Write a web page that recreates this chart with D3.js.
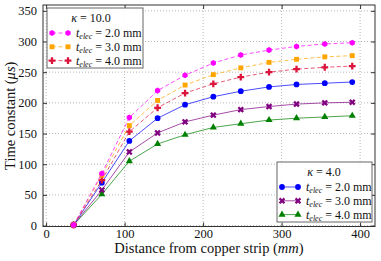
<!DOCTYPE html>
<html>
<head>
<meta charset="utf-8">
<script src="https://cdn.jsdelivr.net/npm/d3@7"></script>
<style>
  body { margin: 0; background: #fff; }
  text { font-family: "Liberation Serif", "DejaVu Serif", serif; fill: #111; }
</style>
</head>
<body>
<script>
// chart data
var distance = [35, 71, 106, 142, 177, 213, 248, 284, 319, 355, 390];

var k10t2 = [1, 85, 176, 220, 245, 265, 278, 286, 292, 296, 298];
var k10t3 = [1, 82, 163, 204, 229, 246, 257, 266, 271, 275, 277];
var k10t4 = [1, 74, 153, 192, 216, 231, 242, 250, 255, 258, 260];

var k4t2 = [1, 70, 138, 175, 197, 210, 219, 226, 230, 232, 234];
var k4t3 = [1, 58, 120, 151, 169, 180, 189, 194, 198, 200, 201];
var k4t4 = [1, 51, 105, 133, 148, 160, 166, 172, 175, 177, 179];

var xTicks = [0, 100, 200, 300, 400];
var yTicks = [0, 50, 100, 150, 200, 250, 300, 350];
var thickness = ["2.0", "3.0", "4.0"];

var width = 381, height = 261;
// plot box edges (don't call these top/left: window.top is read-only)
var pL = 43, pR = 375, pT = 5, pB = 226.5;

var svg = d3.select("body").append("svg")
  .attr("width", width)
  .attr("height", height);

var x = d3.scaleLinear().domain([-4, 419]).range([pL, pR]);
var y = d3.scaleLinear().domain([-1.5, 359.5]).range([pB, pT]);

// dotted grid
svg.append("g").selectAll("line").data(xTicks).enter().append("line")
  .attr("x1", function(d) { return x(d); }).attr("x2", function(d) { return x(d); })
  .attr("y1", pT).attr("y2", pB)
  .attr("stroke", "#b0b0b0").attr("stroke-dasharray", "1,2").attr("stroke-width", 0.9);
svg.append("g").selectAll("line").data(yTicks).enter().append("line")
  .attr("y1", function(d) { return y(d); }).attr("y2", function(d) { return y(d); })
  .attr("x1", pL).attr("x2", pR)
  .attr("stroke", "#b0b0b0").attr("stroke-dasharray", "1,2").attr("stroke-width", 0.9);

// axes, ticks pointing inward on every side
var axB = svg.append("g").attr("transform", "translate(0," + pB + ")")
  .call(d3.axisBottom(x).tickValues(xTicks).tickSize(-4).tickPadding(3));
var axT = svg.append("g").attr("transform", "translate(0," + pT + ")")
  .call(d3.axisTop(x).tickValues(xTicks).tickSize(-4).tickFormat(""));
var axL = svg.append("g").attr("transform", "translate(" + pL + ",0)")
  .call(d3.axisLeft(y).tickValues(yTicks).tickSize(-4).tickPadding(6));
var axR = svg.append("g").attr("transform", "translate(" + pR + ",0)")
  .call(d3.axisRight(y).tickValues(yTicks).tickSize(-4).tickFormat(""));

[axB, axT, axL, axR].forEach(function(a) {
  a.select(".domain").remove();
  a.selectAll("line").attr("stroke", "#333");
  a.selectAll("text").attr("font-size", 12.5).attr("fill", "#111")
    .attr("font-family", "Liberation Serif, serif");
});

svg.append("rect")
  .attr("x", pL).attr("y", pT)
  .attr("width", pR - pL).attr("height", pB - pT)
  .attr("fill", "none").attr("stroke", "#333").attr("stroke-width", 1);

// marker shapes
var hexagon = {
  draw: function(ctx, size) {
    var r = Math.sqrt(size / 2.598);
    for (var i = 0; i < 6; i++) {
      var a = Math.PI / 3 * i - Math.PI / 2;
      if (i === 0) ctx.moveTo(r * Math.cos(a), r * Math.sin(a));
      else ctx.lineTo(r * Math.cos(a), r * Math.sin(a));
    }
    ctx.closePath();
  }
};

var series = [
  { values: k10t2, color: "#ff00ff", shape: hexagon, size: 24, rot: 0, dash: "4,2.5" },
  { values: k10t3, color: "#ffa500", shape: d3.symbolSquare, size: 24, rot: 0, dash: "4,2.5" },
  { values: k10t4, color: "#dc143c", shape: d3.symbolCross, size: 26, rot: 0, dash: "4,2.5" },
  { values: k4t2, color: "#0000ff", shape: d3.symbolCircle, size: 26, rot: 0, dash: null },
  { values: k4t3, color: "#800080", shape: d3.symbolCross, size: 26, rot: 45, dash: null },
  { values: k4t4, color: "#008000", shape: d3.symbolTriangle, size: 22, rot: 0, dash: null }
];

var line = d3.line()
  .x(function(d, i) { return x(distance[i]); })
  .y(function(d) { return y(d); });

series.slice().reverse().forEach(function(s) {
  var g = svg.append("g");
  g.append("path")
    .attr("d", line(s.values))
    .attr("fill", "none")
    .attr("stroke", s.color)
    .attr("stroke-opacity", 0.7)
    .attr("stroke-width", 1)
    .attr("stroke-dasharray", s.dash);
  g.selectAll("path.m").data(s.values).enter().append("path")
    .attr("class", "m")
    .attr("d", d3.symbol().type(s.shape).size(s.size))
    .attr("transform", function(d, i) {
      return "translate(" + x(distance[i]) + "," + y(d) + ") rotate(" + s.rot + ")";
    })
    .attr("fill", s.color);
});

// legends
function legend(x0, y0, w, h, titleX, title, items) {
  var g = svg.append("g");
  g.append("rect")
    .attr("x", x0).attr("y", y0).attr("width", w).attr("height", h)
    .attr("fill", "#fff").attr("fill-opacity", 0.9)
    .attr("stroke", "#666").attr("stroke-width", 1);
  var t = g.append("text")
    .attr("x", titleX).attr("y", y0 + 14)
    .attr("text-anchor", "middle").attr("font-size", 12);
  t.append("tspan").attr("font-style", "italic").text("κ");
  t.append("tspan").text(" = " + title);
  items.forEach(function(s, i) {
    var yy = y0 + 25 + i * 13.8;
    g.append("line")
      .attr("x1", x0 + 5).attr("x2", x0 + 21)
      .attr("y1", yy).attr("y2", yy)
      .attr("stroke", s.color).attr("stroke-opacity", 0.7)
      .attr("stroke-dasharray", s.dash);
    [x0 + 5, x0 + 21].forEach(function(px) {
      g.append("path")
        .attr("d", d3.symbol().type(s.shape).size(s.size))
        .attr("transform", "translate(" + px + "," + yy + ") rotate(" + s.rot + ")")
        .attr("fill", s.color);
    });
    var lt = g.append("text").attr("x", x0 + 29).attr("y", yy + 4).attr("font-size", 12);
    lt.append("tspan").attr("font-style", "italic").text("t");
    lt.append("tspan").attr("font-style", "italic").attr("font-size", 8).attr("dy", 2).text("elec");
    lt.append("tspan").attr("dy", -2).text(" = " + thickness[i] + " mm");
  });
}

legend(47, 8, 96, 60, 91, "10.0", series.slice(0, 3));
legend(277, 162, 95, 60, 324, "4.0", series.slice(3, 6));

// axis labels
var xl = svg.append("text")
  .attr("x", (pL + pR) / 2).attr("y", 253)
  .attr("text-anchor", "middle").attr("font-size", 14.5);
xl.append("tspan").text("Distance from copper strip (");
xl.append("tspan").attr("font-style", "italic").text("mm");
xl.append("tspan").text(")");

var yl = svg.append("text")
  .attr("transform", "translate(15," + (pT + pB) / 2 + ") rotate(-90)")
  .attr("text-anchor", "middle").attr("font-size", 14.5);
yl.append("tspan").text("Time constant (");
yl.append("tspan").attr("font-style", "italic").text("μs");
yl.append("tspan").text(")");
</script>
</body>
</html>
